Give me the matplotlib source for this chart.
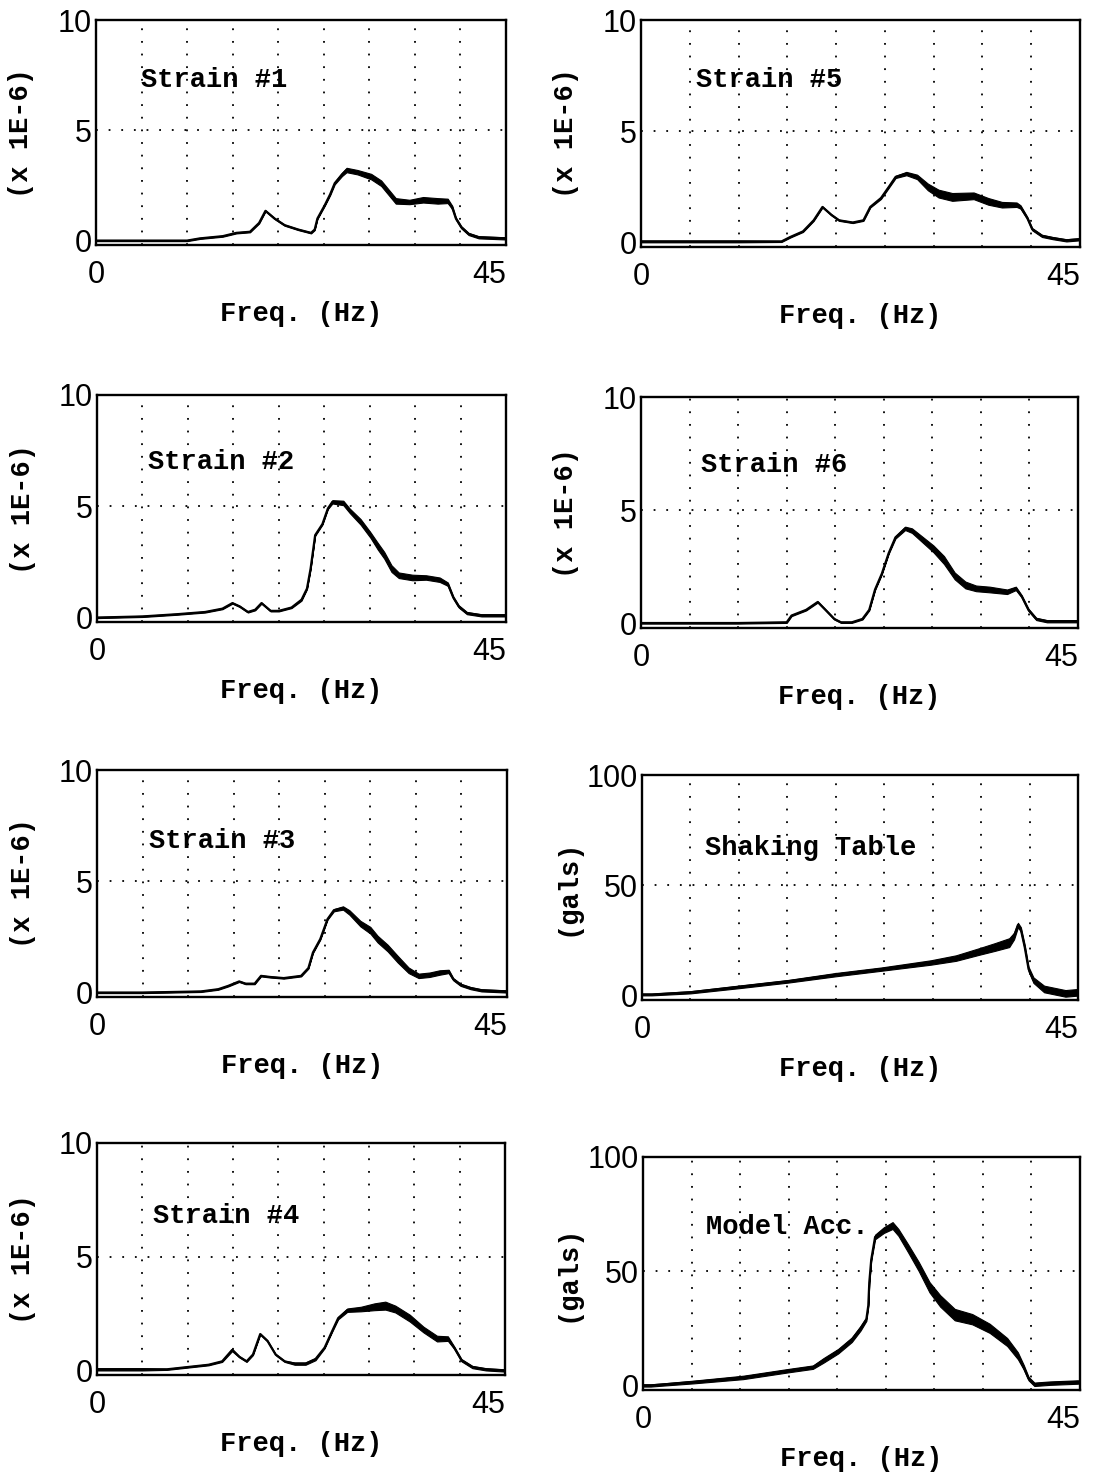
"""Eight spectra (strain gauges, shaking table, model acceleration) vs frequency."""
import matplotlib
matplotlib.use("Agg")
import matplotlib.pyplot as plt
import numpy as np

MONO = "Liberation Mono"
SANS = "Liberation Sans"

# ---- Strain #1 (x 1E-6) ----
F1 = [0, 5, 10, 11.4, 13.9, 15.4, 16.9, 17.9, 18.6, 19.6, 20.7, 22.2, 23.6, 24.0, 24.3, 25.1, 25.7, 26.2,
      27.0, 27.5, 28.7, 30.2, 31.3, 32.1, 32.9, 34.4, 35.9, 37.5, 38.6, 39.1, 39.5, 40.1, 40.9, 42.0, 45]
V1 = [0.0, 0.0, 0.0, 0.1, 0.2, 0.35, 0.4, 0.8, 1.35, 1.0, 0.7, 0.5, 0.35, 0.5, 1.0, 1.6, 2.1, 2.6,
      3.0, 3.2, 3.1, 2.9, 2.6, 2.2, 1.8, 1.75, 1.85, 1.8, 1.8, 1.5, 1.0, 0.6, 0.3, 0.15, 0.1]
S1 = [0.05, 0.05, 0.05, 0.05, 0.05, 0.05, 0.05, 0.05, 0.05, 0.05, 0.05, 0.05, 0.05, 0.05, 0.05, 0.05, 0.08, 0.1,
      0.15, 0.2, 0.2, 0.25, 0.25, 0.25, 0.25, 0.2, 0.25, 0.25, 0.2, 0.15, 0.1, 0.1, 0.1, 0.1, 0.1]

# ---- Strain #2 ----
F2 = [0, 5, 8.8, 11.9, 13.8, 14.9, 15.7, 16.6, 17.4, 18.1, 19.1, 20.0, 21.4, 22.5, 23.1, 23.5, 24.0, 24.8,
      25.4, 25.9, 27.1, 27.8, 29.0, 30.1, 30.9, 31.6, 32.4, 33.2, 34.7, 36.2, 37.7, 38.6, 39.2, 39.8, 40.7, 42.3, 45]
V2 = [0.0, 0.05, 0.15, 0.25, 0.4, 0.65, 0.5, 0.25, 0.35, 0.65, 0.3, 0.3, 0.45, 0.8, 1.3, 2.2, 3.7, 4.2,
      4.9, 5.2, 5.15, 4.8, 4.3, 3.7, 3.2, 2.8, 2.2, 1.9, 1.8, 1.8, 1.7, 1.5, 0.9, 0.5, 0.2, 0.1, 0.1]
S2 = [0.05, 0.05, 0.05, 0.05, 0.05, 0.05, 0.05, 0.05, 0.05, 0.05, 0.05, 0.05, 0.05, 0.08, 0.05, 0.05, 0.05, 0.05,
      0.05, 0.15, 0.2, 0.2, 0.25, 0.25, 0.3, 0.3, 0.3, 0.25, 0.25, 0.2, 0.2, 0.15, 0.1, 0.1, 0.1, 0.1, 0.1]

# ---- Strain #3 ----
F3 = [0, 5, 11.4, 13.3, 14.4, 15.6, 16.3, 17.3, 18.0, 19.0, 20.5, 22.4, 23.2, 23.7, 24.5, 25.3, 26.0, 27.0,
      27.7, 28.9, 30.0, 30.8, 31.9, 33.0, 34.2, 35.3, 36.5, 37.6, 38.6, 39.1, 39.9, 41.0, 42.2, 45]
V3 = [0.0, 0.0, 0.05, 0.15, 0.3, 0.5, 0.4, 0.4, 0.75, 0.7, 0.65, 0.75, 1.1, 1.8, 2.4, 3.3, 3.7, 3.8,
      3.6, 3.1, 2.8, 2.4, 2.0, 1.5, 1.0, 0.75, 0.8, 0.9, 0.95, 0.6, 0.35, 0.2, 0.1, 0.05]
S3 = [0.05, 0.05, 0.05, 0.05, 0.05, 0.05, 0.05, 0.05, 0.05, 0.05, 0.05, 0.05, 0.05, 0.05, 0.05, 0.05, 0.1, 0.15,
      0.2, 0.25, 0.3, 0.3, 0.3, 0.3, 0.25, 0.2, 0.2, 0.2, 0.15, 0.1, 0.1, 0.1, 0.1, 0.1]

# ---- Strain #4 ----
F4 = [0, 5, 7.7, 10.0, 12.3, 13.8, 14.9, 15.7, 16.5, 17.2, 18.0, 18.8, 19.7, 20.7, 21.8, 23.0, 24.1, 25.1,
      25.9, 26.6, 27.6, 29.1, 30.6, 31.8, 32.9, 34.5, 36.0, 37.5, 38.7, 39.4, 40.2, 41.4, 42.9, 45]
V4 = [0.05, 0.05, 0.05, 0.15, 0.25, 0.4, 0.9, 0.6, 0.4, 0.7, 1.6, 1.3, 0.7, 0.4, 0.3, 0.3, 0.5, 1.0,
      1.7, 2.3, 2.65, 2.7, 2.8, 2.85, 2.7, 2.3, 1.8, 1.4, 1.4, 1.0, 0.45, 0.15, 0.05, 0.0]
S4 = [0.1, 0.1, 0.05, 0.05, 0.05, 0.05, 0.1, 0.05, 0.05, 0.05, 0.05, 0.05, 0.05, 0.05, 0.1, 0.1, 0.1, 0.05,
      0.05, 0.1, 0.15, 0.2, 0.3, 0.35, 0.3, 0.3, 0.25, 0.25, 0.2, 0.1, 0.1, 0.1, 0.1, 0.1]

# ---- Strain #5 ----
F5 = [0, 5, 10, 14.4, 15.3, 16.6, 17.7, 18.6, 19.5, 20.3, 21.7, 22.8, 23.5, 24.6, 25.4, 26.1, 27.2, 28.3,
      29.4, 30.5, 31.9, 34.1, 35.6, 37.0, 38.5, 38.9, 39.6, 40.1, 41.1, 42.2, 43.6, 45]
V5 = [0.05, 0.05, 0.05, 0.05, 0.25, 0.5, 1.0, 1.6, 1.25, 1.0, 0.9, 1.0, 1.6, 2.0, 2.5, 2.95, 3.1, 2.95,
      2.5, 2.2, 2.05, 2.1, 1.85, 1.7, 1.7, 1.6, 1.1, 0.6, 0.3, 0.2, 0.1, 0.15]
S5 = [0.08, 0.08, 0.08, 0.05, 0.05, 0.05, 0.05, 0.05, 0.05, 0.05, 0.05, 0.05, 0.05, 0.08, 0.08, 0.1, 0.15, 0.2,
      0.3, 0.35, 0.35, 0.3, 0.3, 0.25, 0.2, 0.15, 0.1, 0.1, 0.1, 0.1, 0.1, 0.1]

# ---- Strain #6 ----
F6 = [0, 5, 10, 15.0, 15.5, 17.0, 18.2, 19.0, 19.9, 20.6, 21.7, 22.8, 23.5, 24.1, 24.8, 25.5, 26.2, 27.2,
      27.9, 29.0, 30.1, 31.2, 32.3, 33.4, 34.5, 35.9, 37.7, 38.6, 39.2, 39.9, 40.7, 41.8, 45]
V6 = [0.02, 0.02, 0.02, 0.05, 0.35, 0.6, 0.95, 0.6, 0.2, 0.05, 0.05, 0.2, 0.6, 1.5, 2.2, 3.1, 3.8, 4.2,
      4.1, 3.7, 3.3, 2.8, 2.1, 1.7, 1.55, 1.5, 1.4, 1.55, 1.2, 0.6, 0.2, 0.1, 0.1]
S6 = [0.05, 0.05, 0.05, 0.05, 0.05, 0.05, 0.05, 0.05, 0.05, 0.05, 0.05, 0.05, 0.05, 0.05, 0.05, 0.05, 0.1, 0.15,
      0.2, 0.25, 0.3, 0.35, 0.3, 0.3, 0.25, 0.25, 0.2, 0.15, 0.1, 0.1, 0.1, 0.1, 0.1]

# ---- Shaking Table (gals) ----
F7 = [0, 1.0, 5.0, 10.1, 15.1, 20.0, 24.7, 29.8, 32.4, 34.8, 36.4, 37.9, 38.4, 38.8, 39.1, 39.5, 39.9,
      40.4, 41.5, 42.6, 43.7, 45]
V7 = [0.5, 0.5, 1.5, 4.0, 6.5, 9.5, 12.0, 15.0, 17.0, 20.0, 22.0, 24.0, 27.0, 32.0, 30.0, 22.0, 12.0,
      7.0, 3.0, 2.0, 1.0, 1.5]
S7 = [0.8, 0.8, 1.0, 1.2, 1.2, 1.5, 1.5, 2.0, 2.5, 3.0, 3.5, 4.0, 3.0, 2.0, 2.0, 2.0, 2.0,
      2.5, 3.0, 3.0, 3.0, 3.0]

# ---- Model Acc. (gals) ----
F8 = [0, 0.8, 2.3, 5.2, 10.3, 15.0, 17.5, 18.6, 20.1, 21.5, 22.4, 23.0, 23.2, 23.3, 23.5, 23.9, 24.8, 25.7,
      26.3, 27.3, 28.4, 29.5, 30.6, 32.1, 33.9, 35.7, 37.5, 38.6, 39.2, 39.7, 40.3, 41.9, 44.8]
V8 = [0.0, 0.0, 0.5, 1.5, 3.5, 6.5, 8.0, 11.0, 15.0, 20.0, 25.0, 29.0, 35.0, 45.0, 55.0, 65.0, 68.0, 70.0,
      67.0, 60.0, 52.0, 43.0, 37.0, 31.0, 29.0, 25.0, 19.0, 13.0, 8.0, 3.0, 0.5, 1.0, 1.5]
S8 = [1.0, 1.0, 1.0, 1.2, 1.5, 1.5, 1.5, 2.0, 2.0, 2.0, 2.0, 1.5, 1.0, 1.0, 1.0, 2.0, 2.5, 3.0,
      3.0, 3.5, 4.0, 4.5, 5.0, 5.0, 4.5, 4.0, 3.5, 3.0, 2.0, 1.5, 1.5, 1.5, 1.5]

GRID_X = [5, 10, 15, 20, 25, 30, 35, 40]

W, H = 1104, 1473
fig = plt.figure(figsize=(W / 100, H / 100), dpi=100)


def rect(left, top, right, bottom):
    """pixel box -> figure fraction"""
    return [left / W, 1 - bottom / H, (right - left) / W, (bottom - top) / H]


def panel(box, f, v, s, name, txy, ymax, ylab, lab_x):
    ax = fig.add_axes(box)
    f, v, s = np.array(f), np.array(v), np.array(s)
    ax.fill_between(f, v - s / 2, v + s / 2, color="k", lw=0.8)
    ax.plot(f, v, color="k", lw=1.6)
    for g in GRID_X:
        ax.axvline(g, color="k", ls=(0, (1, 6)), lw=1.3)
    ax.axhline(ymax / 2, color="k", ls=(0, (1, 6)), lw=1.3)
    ax.set_xlim(0, 45)
    ax.set_ylim(-0.02 * ymax, ymax)
    ax.set_xticks([0, 45])
    ax.set_yticks([0, ymax / 2, ymax])
    ax.set_yticklabels([str(int(t)) for t in (0, ymax / 2, ymax)])
    ax.tick_params(length=0, labelsize=22)
    ax.tick_params(axis="x", pad=11)
    ax.tick_params(axis="y", pad=3)
    for t in ax.get_xticklabels() + ax.get_yticklabels():
        t.set_fontfamily(SANS)
    ax.get_xticklabels()[1].set_ha("right")
    for sp in ax.spines.values():
        sp.set_linewidth(1.7)
    ax.set_xlabel("Freq. (Hz)", fontfamily=MONO, fontweight="bold", fontsize=19.5, labelpad=8)
    ax.set_ylabel(ylab, fontfamily=MONO, fontweight="bold", fontsize=19.5)
    ax.yaxis.set_label_coords(lab_x, 0.5)
    ax.text(txy[0], txy[1], name, fontfamily=MONO, fontweight="bold", fontsize=19.5, va="center")
    return ax


SL = "(x 1E-6)"
panel(rect(96, 20, 506, 245), F1, V1, S1, "Strain #1", (4.9, 7.3), 10, SL, -0.15)
panel(rect(97, 395, 506, 622), F2, V2, S2, "Strain #2", (5.6, 7.0), 10, SL, -0.15)
panel(rect(97, 770, 507, 997), F3, V3, S3, "Strain #3", (5.7, 6.8), 10, SL, -0.15)
panel(rect(97, 1143, 505, 1375), F4, V4, S4, "Strain #4", (6.2, 6.8), 10, SL, -0.15)
panel(rect(641, 20, 1080, 247), F5, V5, S5, "Strain #5", (5.6, 7.3), 10, SL, -0.142)
panel(rect(641, 397, 1078, 628), F6, V6, S6, "Strain #6", (6.2, 7.0), 10, SL, -0.142)
panel(rect(642, 775, 1078, 1000), F7, V7, S7, "Shaking Table", (6.5, 67), 100, "(gals)", -0.142)
panel(rect(643, 1157, 1080, 1390), F8, V8, S8, "Model Acc.", (6.5, 69.5), 100, "(gals)", -0.142)

fig.savefig("out.png", dpi=100, facecolor="white")
